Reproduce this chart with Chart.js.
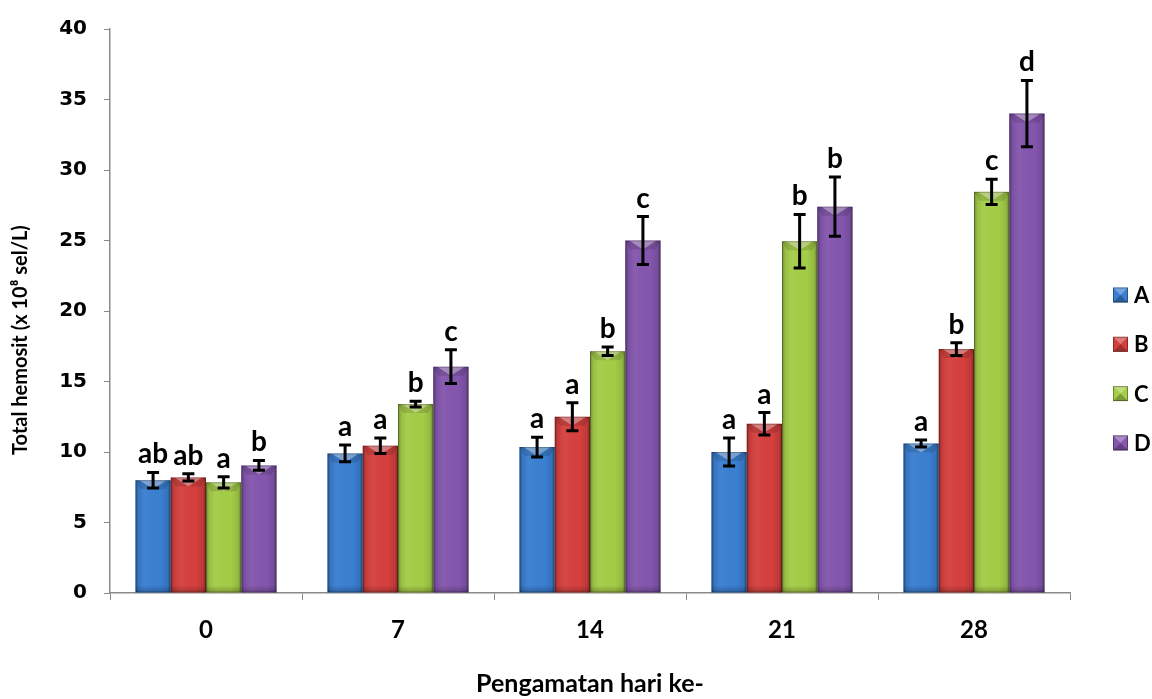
<!DOCTYPE html>
<html>
<head>
<meta charset="utf-8">
<script src="https://cdn.jsdelivr.net/npm/chart.js@4/dist/chart.umd.min.js"></script>
<style>
  html, body { margin: 0; padding: 0; background: #fff; }
  #wrap { width: 1152px; height: 699px; position: relative; }
</style>
</head>
<body>
<div id="wrap"><canvas id="c" width="1152" height="699"></canvas></div>
<script>
// Observation days
const days = ['0', '7', '14', '21', '28'];

// Mean total haemocyte count per treatment
const seriesA = [8.0, 9.9, 10.35, 10.0, 10.6];
const seriesB = [8.2, 10.45, 12.5, 12.0, 17.3];
const seriesC = [7.85, 13.4, 17.15, 24.95, 28.45];
const seriesD = [9.05, 16.05, 25.0, 27.4, 34.0];

// Standard deviations
const errA = [0.55, 0.6, 0.7, 1.0, 0.25];
const errB = [0.25, 0.55, 1.0, 0.8, 0.45];
const errC = [0.4, 0.2, 0.3, 1.9, 0.9];
const errD = [0.35, 1.2, 1.7, 2.1, 2.35];

// Significance letters
const letA = ['ab', 'a', 'a', 'a', 'a'];
const letB = ['ab', 'a', 'a', 'a', 'b'];
const letC = ['a', 'b', 'b', 'b', 'c'];
const letD = ['b', 'c', 'c', 'b', 'd'];

const treatments = ['A', 'B', 'C', 'D'];
const yTicks = [0, 5, 10, 15, 20, 25, 30, 35, 40];
const yTitle = 'Total hemosit (x 10\u2078 sel/L)';
const xTitle = 'Pengamatan hari ke-';

const colours = ['#3a7fd1', '#d5403e', '#a4cd48', '#8456ae'];
const allSeries = [seriesA, seriesB, seriesC, seriesD];
const allErr = [errA, errB, errC, errD];
const allLet = [letA, letB, letC, letD];

const SANS = 'Lato, "Open Sans", sans-serif';
const LABEL_FONT = 'bold 28px ' + SANS;

// Bevel shading drawn over every bar
function bevel(ctx, left, right, top, bottom, fillLight) {
  const w = right - left;
  ctx.save();
  ctx.beginPath();
  ctx.rect(left, top, w, bottom - top);
  ctx.clip();
  // side darkening
  let g = ctx.createLinearGradient(left, 0, right, 0);
  g.addColorStop(0, 'rgba(0,0,0,0.32)');
  g.addColorStop(0.09, 'rgba(0,0,0,0.08)');
  g.addColorStop(0.3, 'rgba(255,255,255,0.04)');
  g.addColorStop(0.7, 'rgba(0,0,0,0.0)');
  g.addColorStop(0.91, 'rgba(0,0,0,0.1)');
  g.addColorStop(1, 'rgba(0,0,0,0.38)');
  ctx.fillStyle = g;
  ctx.fillRect(left, top, w, bottom - top);
  // bottom band
  const bh = Math.min(7, (bottom - top) / 3);
  g = ctx.createLinearGradient(0, bottom - bh, 0, bottom);
  g.addColorStop(0, 'rgba(0,0,0,0)');
  g.addColorStop(1, 'rgba(0,0,0,0.25)');
  ctx.fillStyle = g;
  ctx.fillRect(left, bottom - bh, w, bh);
  // top bevel: lighter V shape
  const th = Math.min(9, (bottom - top) / 2);
  ctx.beginPath();
  ctx.moveTo(left, top);
  ctx.lineTo(right, top);
  ctx.lineTo(right - 5, top + th);
  ctx.lineTo(left + 5, top + th);
  ctx.closePath();
  ctx.fillStyle = 'rgba(0,0,0,0.12)';
  ctx.fill();
  ctx.beginPath();
  ctx.moveTo(left + 4, top);
  ctx.lineTo(right - 4, top);
  ctx.lineTo(left + w / 2, top + th);
  ctx.closePath();
  ctx.fillStyle = fillLight;
  ctx.fill();
  ctx.restore();
  // thin outline
  ctx.save();
  ctx.strokeStyle = 'rgba(0,0,0,0.25)';
  ctx.lineWidth = 1;
  ctx.strokeRect(left + 0.5, top + 0.5, w - 1, bottom - top - 1);
  ctx.restore();
}

const barDecor = {
  id: 'barDecor',
  afterDatasetsDraw(chart) {
    const ctx = chart.ctx;
    const yScale = chart.scales.y;
    chart.data.datasets.forEach((ds, di) => {
      const meta = chart.getDatasetMeta(di);
      meta.data.forEach((bar) => {
        const p = bar.getProps(['x', 'y', 'base', 'width'], true);
        bevel(ctx, p.x - p.width / 2, p.x + p.width / 2, p.y, p.base, 'rgba(255,255,255,0.35)');
      });
    });
    // error bars and letters
    chart.data.datasets.forEach((ds, di) => {
      const meta = chart.getDatasetMeta(di);
      meta.data.forEach((bar, i) => {
        const p = bar.getProps(['x'], true);
        const v = allSeries[di][i];
        const e = allErr[di][i];
        const yHi = yScale.getPixelForValue(v + e);
        const yLo = yScale.getPixelForValue(v - e);
        ctx.save();
        ctx.strokeStyle = '#000';
        ctx.lineWidth = 3;
        ctx.beginPath();
        ctx.moveTo(p.x, yHi);
        ctx.lineTo(p.x, yLo);
        ctx.moveTo(p.x - 6, yHi);
        ctx.lineTo(p.x + 6, yHi);
        ctx.moveTo(p.x - 6, yLo);
        ctx.lineTo(p.x + 6, yLo);
        ctx.stroke();
        ctx.fillStyle = '#000';
        ctx.font = LABEL_FONT;
        ctx.textAlign = 'center';
        ctx.textBaseline = 'alphabetic';
        ctx.fillText(allLet[di][i], p.x, yHi - 9);
        ctx.restore();
      });
    });
  }
};

// Vertical axis title, reading upward from just above the 10 tick
const yTitlePlugin = {
  id: 'yTitlePlugin',
  afterDraw(chart) {
    const ctx = chart.ctx;
    const a = chart.chartArea;
    ctx.save();
    ctx.translate(21, a.bottom - 138);
    ctx.rotate(-Math.PI / 2);
    ctx.fillStyle = '#000';
    ctx.font = 'bold 20px ' + SANS;
    ctx.textAlign = 'left';
    ctx.textBaseline = 'middle';
    ctx.fillText(yTitle, 0, 0);
    ctx.restore();
  }
};

// Legend at the right side
const sideLegend = {
  id: 'sideLegend',
  afterDraw(chart) {
    const ctx = chart.ctx;
    const x0 = 1113, y0 = 295, step = 49.3, s = 15;
    chart.data.datasets.forEach((ds, di) => {
      const cy = y0 + di * step;
      ctx.save();
      ctx.fillStyle = ds.backgroundColor;
      ctx.fillRect(x0, cy - s / 2, s, s);
      // pyramid shading
      ctx.fillStyle = 'rgba(255,255,255,0.3)';
      ctx.beginPath();
      ctx.moveTo(x0, cy - s / 2); ctx.lineTo(x0 + s, cy - s / 2); ctx.lineTo(x0 + s / 2, cy); ctx.closePath(); ctx.fill();
      ctx.fillStyle = 'rgba(0,0,0,0.25)';
      ctx.beginPath();
      ctx.moveTo(x0, cy + s / 2); ctx.lineTo(x0 + s, cy + s / 2); ctx.lineTo(x0 + s / 2, cy); ctx.closePath(); ctx.fill();
      ctx.strokeStyle = 'rgba(0,0,0,0.35)';
      ctx.lineWidth = 1;
      ctx.strokeRect(x0 + 0.5, cy - s / 2 + 0.5, s - 1, s - 1);
      ctx.fillStyle = '#000';
      ctx.font = 'bold 22px ' + SANS;
      ctx.textAlign = 'left';
      ctx.textBaseline = 'middle';
      ctx.fillText(ds.label, x0 + s + 6, cy + 1);
      ctx.restore();
    });
  }
};

new Chart(document.getElementById('c'), {
  type: 'bar',
  data: {
    labels: days,
    datasets: treatments.map((t, i) => ({
      label: t,
      data: allSeries[i],
      backgroundColor: colours[i],
      borderWidth: 0,
      barPercentage: 1.0,
      categoryPercentage: 0.735
    }))
  },
  options: {
    responsive: false,
    animation: false,
    events: [],
    layout: { padding: { top: 28, right: 82, left: 0, bottom: 0 } },
    plugins: {
      legend: { display: false },
      tooltip: { enabled: false }
    },
    scales: {
      x: {
        grid: {
          display: true,
          drawOnChartArea: false,
          drawTicks: true,
          tickLength: 7,
          color: '#8a8a8a',
          offset: true
        },
        border: { display: true, color: '#8a8a8a', width: 1.5 },
        ticks: {
          color: '#000',
          font: { family: SANS, size: 24, weight: 'bold' },
          padding: 16
        },
        title: {
          display: true,
          text: xTitle,
          color: '#000',
          font: { family: SANS, size: 25, weight: 'bold' },
          padding: { top: 0, bottom: 0 }
        },
        afterFit(scale) { scale.height = 106; }
      },
      y: {
        min: 0,
        max: 40,
        afterBuildTicks(scale) { scale.ticks = yTicks.map(v => ({ value: v })); },
        grid: {
          display: true,
          drawOnChartArea: false,
          drawTicks: true,
          tickLength: 6,
          color: '#8a8a8a'
        },
        border: { display: true, color: '#8a8a8a', width: 1.5 },
        ticks: {
          color: '#000',
          font: { family: '"DejaVu Sans", Verdana, sans-serif', size: 20, weight: 'bold' },
          padding: 17
        },
        title: { display: false },
        afterFit(scale) { scale.width = 110; }
      }
    }
  },
  plugins: [barDecor, yTitlePlugin, sideLegend]
});
</script>
</body>
</html>
